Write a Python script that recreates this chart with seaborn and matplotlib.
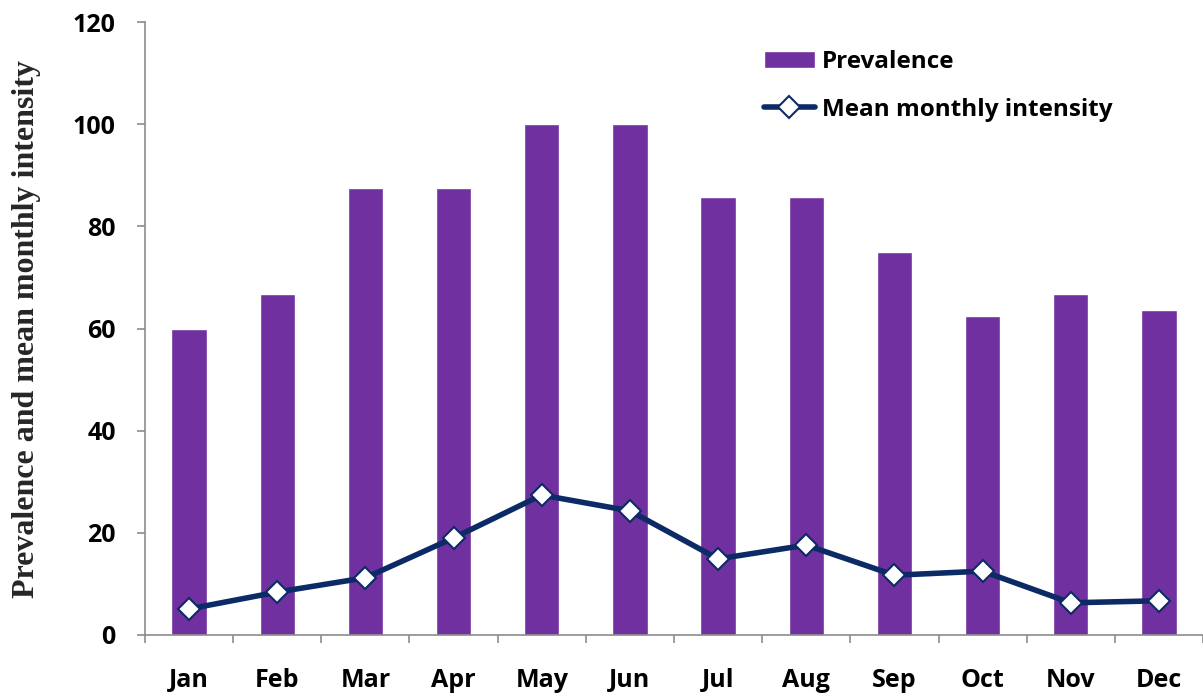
import numpy as np
import pandas as pd
import seaborn as sns
import matplotlib
matplotlib.use("Agg")
import matplotlib.pyplot as plt
from matplotlib.ticker import FixedLocator

# data
months = ['Jan', 'Feb', 'Mar', 'Apr', 'May', 'Jun', 'Jul', 'Aug', 'Sep', 'Oct', 'Nov', 'Dec']
prevalence = [60, 66.7, 87.5, 87.5, 100, 100, 85.7, 85.7, 75, 62.5, 66.7, 63.6]
intensity = [5.1, 8.4, 11.2, 19.0, 27.4, 24.3, 14.9, 17.6, 11.7, 12.5, 6.3, 6.7]

df = pd.DataFrame({'Month': months, 'Prevalence': prevalence, 'Intensity': intensity})

sns.set_style("white")
plt.rcParams['font.family'] = ['Open Sans', 'DejaVu Sans']
plt.rcParams['text.color'] = 'black'
plt.rcParams['xtick.labelcolor'] = 'black'
plt.rcParams['ytick.labelcolor'] = 'black'

bar_color = '#7030a0'
line_color = '#0c2a66'
grey = '#8c8c8c'
fs = 18

fig = plt.figure(figsize=(12.03, 6.98), dpi=100)
ax = fig.add_axes([145 / 1203, 63 / 698, 1 - 145 / 1203, 613 / 698])

sns.barplot(data=df, x='Month', y='Prevalence', order=months, color=bar_color,
            width=0.4, saturation=1, ax=ax, label='Prevalence')
sns.pointplot(data=df, x='Month', y='Intensity', order=months, color=line_color,
              markers='D', linestyles='-', ax=ax, label='Mean monthly intensity',
              markerfacecolor='white', markeredgecolor=line_color,
              markersize=11.5, markeredgewidth=1.5, linewidth=4)

ax.set_xlim(-0.5, 11.5)
ax.set_ylim(0, 120)
ax.set_yticks(range(0, 121, 20))
ax.xaxis.set_minor_locator(FixedLocator(np.arange(-0.5, 12, 1)))
ax.tick_params(axis='x', which='major', length=0, pad=24, labelsize=fs)
ax.tick_params(axis='x', which='minor', length=6, width=1.2, color=grey, direction='out', bottom=True)
ax.tick_params(axis='y', which='major', length=6, width=1.2, color=grey, direction='out',
               left=True, pad=15, labelsize=fs)
for lab in ax.get_xticklabels() + ax.get_yticklabels():
    lab.set_fontweight('bold')

for s in ['top', 'right']:
    ax.spines[s].set_visible(False)
for s in ['left', 'bottom']:
    ax.spines[s].set_color(grey)
    ax.spines[s].set_linewidth(1.2)

ax.set_xlabel('')
ax.set_ylabel('Prevalence and mean monthly intensity', family='Liberation Serif',
              fontweight='bold', fontsize=23, labelpad=23)

handles, labels = ax.get_legend_handles_labels()
order = [labels.index('Prevalence'), labels.index('Mean monthly intensity')]
leg = ax.legend([handles[i] for i in order], [labels[i] for i in order],
                loc='upper left', bbox_to_anchor=(0.585, 0.955), frameon=False,
                prop={'weight': 'bold', 'size': 17.5}, borderpad=0, borderaxespad=0,
                handlelength=2.1, handletextpad=0.3, labelspacing=1.0)

fig.savefig('out.png', dpi=100)
